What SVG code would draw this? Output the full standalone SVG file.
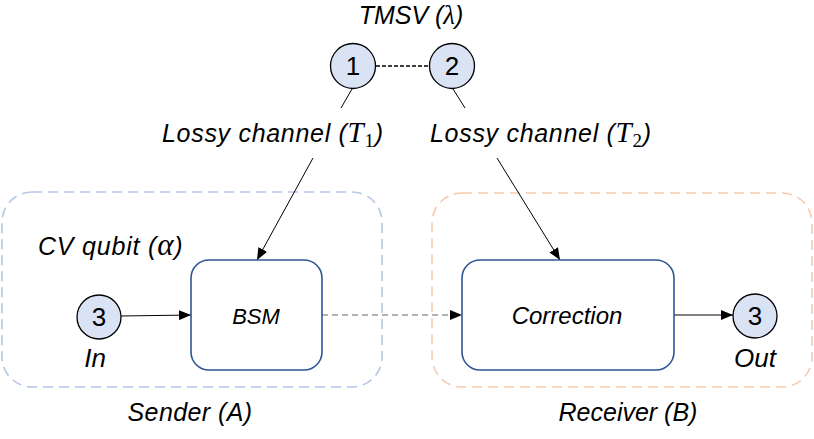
<svg xmlns="http://www.w3.org/2000/svg" width="814" height="439" viewBox="0 0 814 439">
  <style>
    .lbl { font-family: "Liberation Sans", Arial, sans-serif; font-style: italic; font-size: 25px; fill: #000; }
    .wide { letter-spacing: 0.7px; }
    .math { font-family: "Liberation Serif", "Times New Roman", serif; font-style: italic; font-size: 29px; }
    .sub { font-family: "Liberation Serif", "Times New Roman", serif; font-style: normal; font-size: 19px; }
    .num { font-family: "Liberation Sans", Arial, sans-serif; font-size: 26px; fill: #000; text-anchor: middle; }
    .circ { fill: #dae3f3; stroke: #000; stroke-width: 1.3; }
    .box { fill: #fff; stroke: #2f5597; stroke-width: 1.6; }
    .conn { stroke: #000; stroke-width: 1; fill: none; }
  </style>
  <defs>
    <marker id="arr" viewBox="0 0 12 10" refX="12" refY="5" markerWidth="12" markerHeight="10" markerUnits="userSpaceOnUse" orient="auto">
      <path d="M0,0 L12,5 L0,10 Z" fill="#000"/>
    </marker>
  </defs>
  <rect width="814" height="439" fill="#fff"/>

  <g id="sender-group">
    <rect x="2" y="192" width="380" height="195" rx="30" ry="30" fill="none" stroke="#b4c7e7" stroke-width="1.6" stroke-dasharray="10,6"/>
    <text class="lbl" x="190" y="421" text-anchor="middle" style="letter-spacing:0.4px">Sender (A)</text>
  </g>
  <g id="receiver-group">
    <rect x="432" y="193" width="380" height="194" rx="30" ry="30" fill="none" stroke="#f8cbad" stroke-width="1.6" stroke-dasharray="10,6"/>
    <text class="lbl" x="628" y="421" text-anchor="middle">Receiver (B)</text>
  </g>

  <g id="connectors">
    <line x1="376" y1="66" x2="429" y2="66" stroke="#000" stroke-width="1.5" stroke-dasharray="4,2"/>
    <line class="conn" x1="352" y1="89" x2="341" y2="108"/>
    <line class="conn" x1="453" y1="89" x2="465" y2="108"/>
    <line class="conn" x1="313" y1="158" x2="257" y2="260" marker-end="url(#arr)"/>
    <line class="conn" x1="497" y1="158" x2="560" y2="260" marker-end="url(#arr)"/>
    <line class="conn" x1="121" y1="316" x2="191" y2="315" marker-end="url(#arr)"/>
    <line x1="322" y1="315" x2="462" y2="315" stroke="#666" stroke-width="1.2" stroke-dasharray="6,4" marker-end="url(#arr)"/>
    <line class="conn" x1="674" y1="315" x2="733" y2="315" marker-end="url(#arr)"/>
  </g>

  <g id="tmsv-label">
    <text class="lbl" x="411" y="24" text-anchor="middle">TMSV (<tspan class="math" style="font-size:27px">λ</tspan>)</text>
  </g>
  <g id="node-1">
    <circle class="circ" cx="353" cy="66" r="22.5"/>
    <text class="num" x="353" y="75">1</text>
  </g>
  <g id="node-2">
    <circle class="circ" cx="452" cy="66" r="22.5"/>
    <text class="num" x="452" y="75">2</text>
  </g>
  <g id="channel-1">
    <text class="lbl wide" x="162" y="142">Lossy channel (<tspan class="math">T</tspan><tspan class="sub" dy="5">1</tspan><tspan dy="-5">)</tspan></text>
  </g>
  <g id="channel-2">
    <text class="lbl wide" x="430" y="142">Lossy channel (<tspan class="math">T</tspan><tspan class="sub" dy="5">2</tspan><tspan dy="-5">)</tspan></text>
  </g>
  <g id="cv-qubit">
    <text class="lbl" x="38" y="255" style="letter-spacing:0.8px">CV qubit (<tspan class="math" style="font-size:31px">α</tspan>)</text>
  </g>
  <g id="node-in">
    <circle class="circ" cx="99" cy="317" r="22"/>
    <text class="num" x="99" y="326">3</text>
    <text class="lbl" x="95" y="367" text-anchor="middle" style="font-size:26px">In</text>
  </g>
  <g id="bsm">
    <rect class="box" x="191" y="260" width="131" height="110" rx="18" ry="18"/>
    <text class="lbl" x="256" y="324" text-anchor="middle" style="font-size:22px">BSM</text>
  </g>
  <g id="correction">
    <rect class="box" x="462" y="260" width="212" height="110" rx="18" ry="18"/>
    <text class="lbl" x="567" y="324" text-anchor="middle" style="font-size:24px">Correction</text>
  </g>
  <g id="node-out">
    <circle class="circ" cx="755" cy="316" r="22"/>
    <text class="num" x="755" y="325">3</text>
    <text class="lbl" x="755" y="367" text-anchor="middle" style="font-size:26px">Out</text>
  </g>
</svg>
